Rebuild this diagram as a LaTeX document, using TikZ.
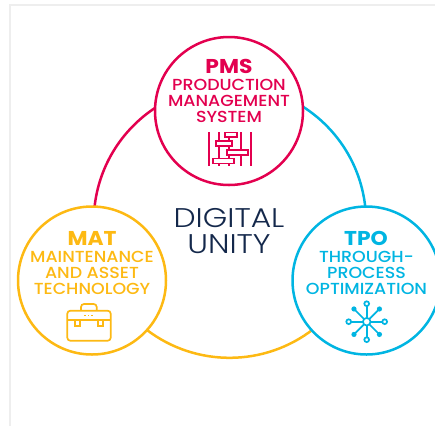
\documentclass[tikz,border=0pt]{standalone}
\usepackage{fontspec}
\setmainfont{Poppins Medium}[BoldFont=Poppins Bold,FakeStretch=1.09]
\newfontfamily\lightfont{Poppins Light}[FakeStretch=1.16]
\definecolor{pmscol}{HTML}{E3004F}
\definecolor{matcol}{HTML}{FDB913}
\definecolor{tpocol}{HTML}{00B5E2}
\definecolor{navy}{HTML}{14284B}
\definecolor{edge}{HTML}{EEEEEE}
\pgfdeclarelayer{under}
\pgfsetlayers{under,main}
\tikzset{
  hub/.style={circle,draw=#1,line width=2.5pt,fill=white,minimum size=148pt,inner sep=0pt,outer sep=0pt},
  ttl/.style={text=#1,font=\fontsize{20}{20}\selectfont\bfseries,inner sep=0pt},
  sub/.style={text=#1,font=\fontsize{16}{16}\selectfont,align=center,inner sep=0pt},
  ring/.style={line width=2.5pt,draw=#1},
  ico/.style={line width=1.7pt,draw=#1},
}
\begin{document}
\begin{tikzpicture}[x=1pt,y=-1pt]
\useasboundingbox (0,0) rectangle (435,426);
\draw[edge,line width=2.5pt] (10,426) -- (10,5) -- (435,5);
\node[hub=pmscol] (pms) at (229,111) {};
\node[hub=matcol] (mat) at (92,280.5) {};
\node[hub=tpocol] (tpo) at (366.5,280.5) {};
\begin{pgfonlayer}{under}
\draw[ring=pmscol] (mat.88.6) arc[start angle=186.4,delta angle=83.6,radius=136.3];
\draw[ring=tpocol] (tpo.91.4) arc[start angle=-6.4,delta angle=-83.6,radius=136.3];
\draw[ring=matcol] (mat.-42.5) arc[start angle=127.2,delta angle=-75,radius=136.6];
\end{pgfonlayer}
\node[text=navy,font=\fontsize{27}{26}\selectfont\lightfont,align=center,inner sep=0pt] (hubtext) at (229,231) {DIGITAL\\UNITY};
\node[ttl=pmscol] (pmst) at (229,66) {PMS};
\node[sub=pmscol] (pmss) at (229,101) {PRODUCTION\\MANAGEMENT\\SYSTEM};
\node[ttl=matcol] (matt) at (92,238) {MAT};
\node[sub=matcol] (mats) at (92,273) {MAINTENANCE\\AND ASSET\\TECHNOLOGY};
\node[ttl=tpocol] (tpot) at (366,238) {TPO};
\node[sub=tpocol] (tpos) at (366.5,273) {THROUGH-\\PROCESS\\OPTIMIZATION};
% gantt icon
\foreach \x in {209,219.3,229.3,240.7,251} \draw[ico=pmscol] (\x,132)--(\x,166);
\foreach \a/\b/\c/\d in {225/132.5/236.7/136.7,215.7/141/231.7/145.7,227/150/248/155,213/158.5/234/163.5}
  \draw[ico=pmscol,fill=white] (\a,\b) rectangle (\c,\d);
% briefcase icon
\draw[ico=matcol,rounded corners=3pt] (81,310.7)--(81,304)--(96.7,304)--(96.7,310.7);
\draw[ico=matcol,rounded corners=3pt] (67.3,310.7) rectangle (110.7,340.7);
\draw[ico=matcol] (67.3,319.7)--(110.7,319.7);
\draw[ico=matcol] (75,319.7)--(75,326.3)--(80,326.3)--(80,319.7);
\draw[ico=matcol] (98.3,319.7)--(98.3,326.3)--(103.3,326.3)--(103.3,319.7);
\foreach \x in {85,88.5,92} \fill[matcol] (\x-0.8,314.5) rectangle (\x+0.8,316.1);
% network icon
\coordinate (nc) at (366.7,321.7);
\foreach \ang in {0,90,180,270} {
  \draw[ico=tpocol] (nc) -- ++(\ang:16);
  \draw[ico=tpocol,fill=white] (nc) ++(\ang:18) circle[radius=2.4pt];
}
\foreach \ang in {45,135,225,315} {
  \draw[ico=tpocol] (nc) -- ++(\ang:18);
  \fill[tpocol] (nc) ++(\ang:18) circle[radius=2.6pt];
}
\draw[ico=tpocol,fill=white] (nc) circle[radius=3.8pt];
\end{tikzpicture}
\end{document}
